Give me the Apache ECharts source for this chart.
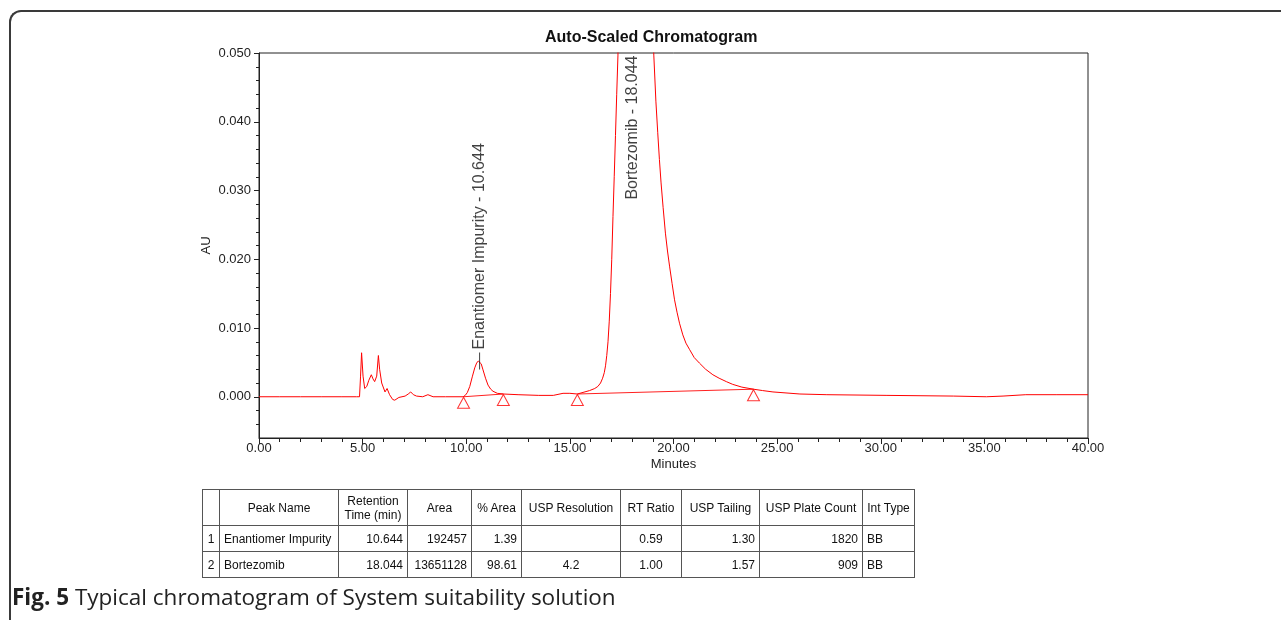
<!DOCTYPE html>
<html>
<head>
<meta charset="utf-8">
<script src="https://cdn.jsdelivr.net/npm/echarts@6/dist/echarts.min.js"></script>
<style>
  html, body { margin: 0; padding: 0; background: #fff; }
  #wrap { position: relative; width: 1281px; height: 620px; overflow: hidden; background: #fff; }
  #frame { position: absolute; left: 9px; top: 10px; width: 1400px; height: 800px;
           border-top: 2px solid #3a3a3a; border-left: 2px solid #3a3a3a; border-top-left-radius: 12px; }
  #chart { position: absolute; left: 0; top: 0; width: 1281px; height: 620px; }
  #tbl { position: absolute; left: 202px; top: 489px; border-collapse: collapse;
         font-family: "Liberation Sans Narrow", "Liberation Sans", Arial, sans-serif; font-size: 12px; color: #111; }
  #tbl td { border: 1px solid #555; padding: 0 4px; white-space: nowrap; }
  #tbl tr.h td { height: 35px; text-align: center; line-height: 14px; }
  #tbl tr.r td { height: 25px; }
  #caption { position: absolute; left: 12px; top: 582px; font-family: "Open Sans", "Noto Sans", sans-serif;
             font-size: 22.5px; line-height: 30px; color: #222; white-space: nowrap; }
  #caption b { font-weight: 700; }
</style>
</head>
<body>
<div id="wrap">
  <div id="frame"></div>
  <div id="chart"></div>
  <table id="tbl"></table>
  <div id="caption"><b>Fig. 5</b> Typical chromatogram of System suitability solution</div>
</div>
<script>
// ---- chromatogram trace (minutes, AU) ----
const retentionTime = [0.0, 1.0, 2.0, 3.0, 4.0, 4.70, 4.85, 4.90, 4.95, 5.02, 5.10, 5.20, 5.30, 5.42, 5.50, 5.58, 5.68, 5.76, 5.82, 5.92, 6.00, 6.08, 6.18, 6.30, 6.45, 6.55, 6.75, 7.05, 7.20, 7.32, 7.45, 7.60, 7.90, 8.15, 8.40, 9.0,
  9.85, 9.95, 10.05, 10.17, 10.30, 10.41, 10.50, 10.58, 10.64, 10.72, 10.81, 10.93, 11.05, 11.18, 11.29, 11.50, 11.79,
  12.5, 13.5, 14.2, 14.67, 15.0, 15.36, 15.95, 16.20, 16.35, 16.48, 16.58, 16.66, 16.72, 16.78, 16.84, 16.90, 16.96, 17.02, 17.08, 17.14, 17.20, 17.26, 17.32,
  17.50, 17.75, 18.04, 18.30, 18.60, 18.85,
  19.05, 19.15, 19.24, 19.32, 19.40, 19.50, 19.61, 19.71, 19.81, 19.93, 20.05, 20.17, 20.29, 20.45, 20.60, 20.77, 21.00, 21.25, 21.55, 21.90, 22.20, 22.55, 22.86, 23.30, 23.86, 24.30, 24.80,
  26.10, 27.4, 30.3, 33.5, 35.1, 35.9, 37.0, 38.5, 40.0];
const absorbance = [0.0, 0.0, 0.0, 0.0, 0.0, 0.0, 0.0, 0.0030, 0.0064, 0.0030, 0.0012, 0.0015, 0.0024, 0.0032, 0.0026, 0.0022, 0.0030, 0.0060, 0.0040, 0.0020, 0.0018, 0.0007, 0.0012, 0.0003, -0.0004, -0.0005, -0.0001, 0.0001, 0.0004, 0.0007, 0.0003, 0.0001, 0.0, 0.0003, 0.0, 0.0,
  0.0, 0.0002, 0.0006, 0.0015, 0.0030, 0.0042, 0.0049, 0.0052, 0.0052, 0.0048, 0.0039, 0.0027, 0.0017, 0.0011, 0.0008, 0.0005, 0.0004,
  0.0003, 0.0002, 0.0002, 0.0005, 0.0005, 0.0004, 0.0009, 0.0012, 0.0015, 0.0020, 0.0027, 0.0035, 0.0045, 0.0060, 0.0080, 0.0110, 0.0150, 0.0200, 0.0262, 0.0320, 0.0380, 0.0440, 0.0497,
  0.090, 0.160, 0.220, 0.190, 0.120, 0.075,
  0.0497, 0.0430, 0.0384, 0.0345, 0.0311, 0.0275, 0.0238, 0.0212, 0.0190, 0.0165, 0.0141, 0.0123, 0.0107, 0.0090, 0.0078, 0.0069, 0.0057, 0.0049, 0.0040, 0.0032, 0.0027, 0.0022, 0.0018, 0.0014, 0.0011, 0.0009, 0.0007,
  0.0004, 0.0003, 0.0002, 0.0001, 0.0, 0.0001, 0.0003, 0.0003, 0.0003];

// ---- peak integration marks ----
const dropTimes  = [9.87, 11.79, 15.36, 23.86];
const dropValues = [0.0, 0.0004, 0.0004, 0.0011];
const baselineSegments = [[0, 1], [2, 3]]; // index pairs into drop marks

// ---- peak labels ----
const peakNames  = ['Enantiomer Impurity', 'Bortezomib'];
const peakTimes  = [10.644, 18.044];
const peakHeights = [0.0052, 0.220];

// ---- axes ----
const yMajorTicks = [0, 0.01, 0.02, 0.03, 0.04, 0.05];
const yMinorTicks = [-0.004, -0.002, 0.002, 0.004, 0.006, 0.008, 0.012, 0.014, 0.016, 0.018, 0.022, 0.024, 0.026, 0.028, 0.032, 0.034, 0.036, 0.038, 0.042, 0.044, 0.046, 0.048];

// ---- results table ----
const tableHeader = ['', 'Peak Name', 'Retention<br>Time (min)', 'Area', '% Area', 'USP Resolution', 'RT Ratio', 'USP Tailing', 'USP Plate Count', 'Int Type'];
const tableRows = [
  ['1', 'Enantiomer Impurity', '10.644', '192457', '1.39', '', '0.59', '1.30', '1820', 'BB'],
  ['2', 'Bortezomib', '18.044', '13651128', '98.61', '4.2', '1.00', '1.57', '909', 'BB']
];
const colWidths = [17, 119, 69, 64, 50, 99, 61, 78, 103, 52];
const colAlign = ['center', 'left', 'right', 'right', 'right', 'center', 'center', 'right', 'right', 'left'];

// build table
(function () {
  const t = document.getElementById('tbl');
  let html = '<tr class="h">';
  tableHeader.forEach((h, i) => { html += '<td style="width:' + (colWidths[i] - 9) + 'px">' + h + '</td>'; });
  html += '</tr>';
  tableRows.forEach(r => {
    html += '<tr class="r">';
    r.forEach((c, i) => { html += '<td style="text-align:' + colAlign[i] + '">' + c + '</td>'; });
    html += '</tr>';
  });
  t.innerHTML = html;
})();

const trace = retentionTime.map((t, i) => [t, absorbance[i]]);
const drops = dropTimes.map((t, i) => [t, dropValues[i]]);
const baseSeries = baselineSegments.map(seg => ({
  type: 'line', xAxisIndex: 0, yAxisIndex: 0, showSymbol: false, silent: true,
  data: [drops[seg[0]], drops[seg[1]]],
  lineStyle: { color: '#ff2020', width: 1 }, z: 2
}));

const labelFont = 'Liberation Sans, Arial, sans-serif';
const chart = echarts.init(document.getElementById('chart'), null, { renderer: 'canvas' });
chart.setOption({
  animation: false,
  backgroundColor: 'transparent',
  title: {
    text: 'Auto-Scaled Chromatogram', left: 540, top: 25,
    textStyle: { fontFamily: labelFont, fontSize: 16, fontWeight: 'bold', color: '#111' }
  },
  grid: { left: 259, right: 193, top: 53, bottom: 182, show: true, borderColor: '#222', borderWidth: 1, backgroundColor: 'transparent' },
  xAxis: {
    type: 'value', min: 0, max: 40, interval: 5,
    name: 'Minutes', nameLocation: 'middle', nameGap: 20, nameMoveOverlap: false,
    nameTextStyle: { fontFamily: labelFont, fontSize: 13, color: '#222' },
    axisLine: { show: true, onZero: false, lineStyle: { color: '#222', width: 1 } },
    axisTick: { show: true, inside: false, length: 6, lineStyle: { color: '#222' } },
    minorTick: { show: true, splitNumber: 5, length: 4, lineStyle: { color: '#222' } },
    axisLabel: { fontFamily: labelFont, fontSize: 13, color: '#222', margin: 4, formatter: v => v.toFixed(2) },
    splitLine: { show: false }
  },
  yAxis: [{
    type: 'value', min: -0.006, max: 0.05, position: 'left',
    name: 'AU', nameLocation: 'middle', nameGap: 46, nameRotate: 90, nameMoveOverlap: false,
    nameTextStyle: { fontFamily: labelFont, fontSize: 13, color: '#222' },
    axisLine: { show: true, onZero: false, lineStyle: { color: '#222', width: 1 } },
    axisTick: { show: true, inside: false, length: 5, customValues: yMajorTicks, lineStyle: { color: '#222' } },
    axisLabel: { fontFamily: labelFont, fontSize: 13, color: '#222', margin: 8, customValues: yMajorTicks, formatter: v => v.toFixed(3) },
    splitLine: { show: false }
  }, {
    type: 'value', min: -0.006, max: 0.05, position: 'left', offset: 0,
    axisLine: { show: false },
    axisTick: { show: true, inside: false, length: 3, customValues: yMinorTicks, lineStyle: { color: '#222' } },
    axisLabel: { show: false },
    splitLine: { show: false }
  }],
  series: [{
    type: 'line', name: 'trace', data: trace, showSymbol: false, smooth: false,
    lineStyle: { color: '#ff0000', width: 1 }, clip: true, z: 3, silent: true
  }].concat(baseSeries).concat([{
    type: 'scatter', name: 'drops', data: drops,
    symbol: 'triangle', symbolSize: [12, 11], symbolOffset: [0, 6],
    itemStyle: { color: 'rgba(0,0,0,0)', borderColor: '#ff0000', borderWidth: 1 }, z: 4, silent: true
  }, {
    type: 'scatter', name: 'peakLabels', clip: false, silent: true, z: 5,
    data: [{
      value: [peakTimes[0], peakHeights[0]], name: peakNames[0],
      symbol: 'rect', symbolSize: [1, 17], itemStyle: { color: '#111' },
      label: { show: true, position: 'top', distance: 3, rotate: 90, align: 'left', verticalAlign: 'middle',
               formatter: peakNames[0] + ' - ' + peakTimes[0].toFixed(3) }
    }, {
      value: [peakTimes[1], 0.05], name: peakNames[1],
      symbol: 'rect', symbolSize: [1, 1], itemStyle: { color: 'rgba(0,0,0,0)' },
      label: { show: true, position: 'bottom', distance: 2, rotate: 90, align: 'right', verticalAlign: 'middle',
               formatter: peakNames[1] + ' - ' + peakTimes[1].toFixed(3) }
    }],
    label: { fontFamily: labelFont, fontSize: 16, color: '#111' }
  }])
});
</script>
</body>
</html>
